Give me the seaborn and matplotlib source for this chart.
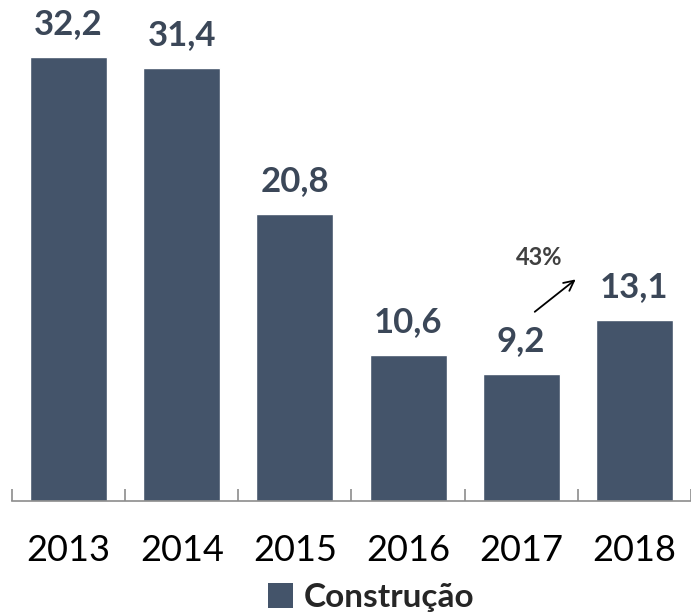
import matplotlib
matplotlib.use('Agg')
import matplotlib.pyplot as plt
import seaborn as sns
from matplotlib.patches import Patch
from matplotlib.ticker import FixedLocator

# data
years = ['2013', '2014', '2015', '2016', '2017', '2018']
values = [32.2, 31.4, 20.8, 10.6, 9.2, 13.1]
value_labels = ['32,2', '31,4', '20,8', '10,6', '9,2', '13,1']
series_name = 'Construção'
growth_label = '43%'

bar_color = '#44546A'
label_color = '#3B4758'

sns.set_theme(style='white')
plt.rcParams['font.family'] = ['Lato', 'DejaVu Sans']

fig = plt.figure(figsize=(6.91, 6.15), dpi=100)
ax = fig.add_axes([12 / 691, 114 / 615, 679 / 691, 0.78])

sns.barplot(x=years, y=values, color=bar_color, width=0.68, saturation=1, ax=ax)

ax.set_xlim(-0.5, len(years) - 0.5)
ax.set_ylim(0, 34.8)
ax.set_yticks([])
for side in ['left', 'right', 'top']:
    ax.spines[side].set_visible(False)
ax.spines['bottom'].set_color('#8C8C8C')
ax.spines['bottom'].set_linewidth(1.2)

# category boundary ticks pointing up, labels centered under bars
ax.xaxis.set_minor_locator(FixedLocator([i - 0.5 for i in range(len(years) + 1)]))
ax.tick_params(axis='x', which='minor', direction='in', length=9, width=1.2,
               color='#8C8C8C', bottom=True)
ax.tick_params(axis='x', which='major', length=0, pad=24, labelsize=26,
               labelcolor='black')

for i, (v, lab) in enumerate(zip(values, value_labels)):
    ax.annotate(lab, (i, v), xytext=(0, 24), textcoords='offset points',
                ha='center', va='center', fontsize=25, fontweight='bold',
                color=label_color, annotation_clip=False)

# growth arrow 2017 -> 2018
ax.annotate('', xy=(4.5, 16.2), xytext=(4.1, 13.6),
            arrowprops=dict(arrowstyle='->', color='black', lw=1.3,
                            mutation_scale=18))
ax.text(4.16, 17.7, growth_label, ha='center', va='center', fontsize=17,
        fontweight='bold', color='#404040')

handles = [Patch(facecolor=bar_color, edgecolor='none', label=series_name)]
fig.legend(handles=handles, loc='center', bbox_to_anchor=(0.537, 0.028),
           frameon=False, prop={'weight': 'bold', 'size': 24},
           handlelength=0.75, handleheight=0.75, handletextpad=0.3)

fig.savefig('out.png', dpi=100)
